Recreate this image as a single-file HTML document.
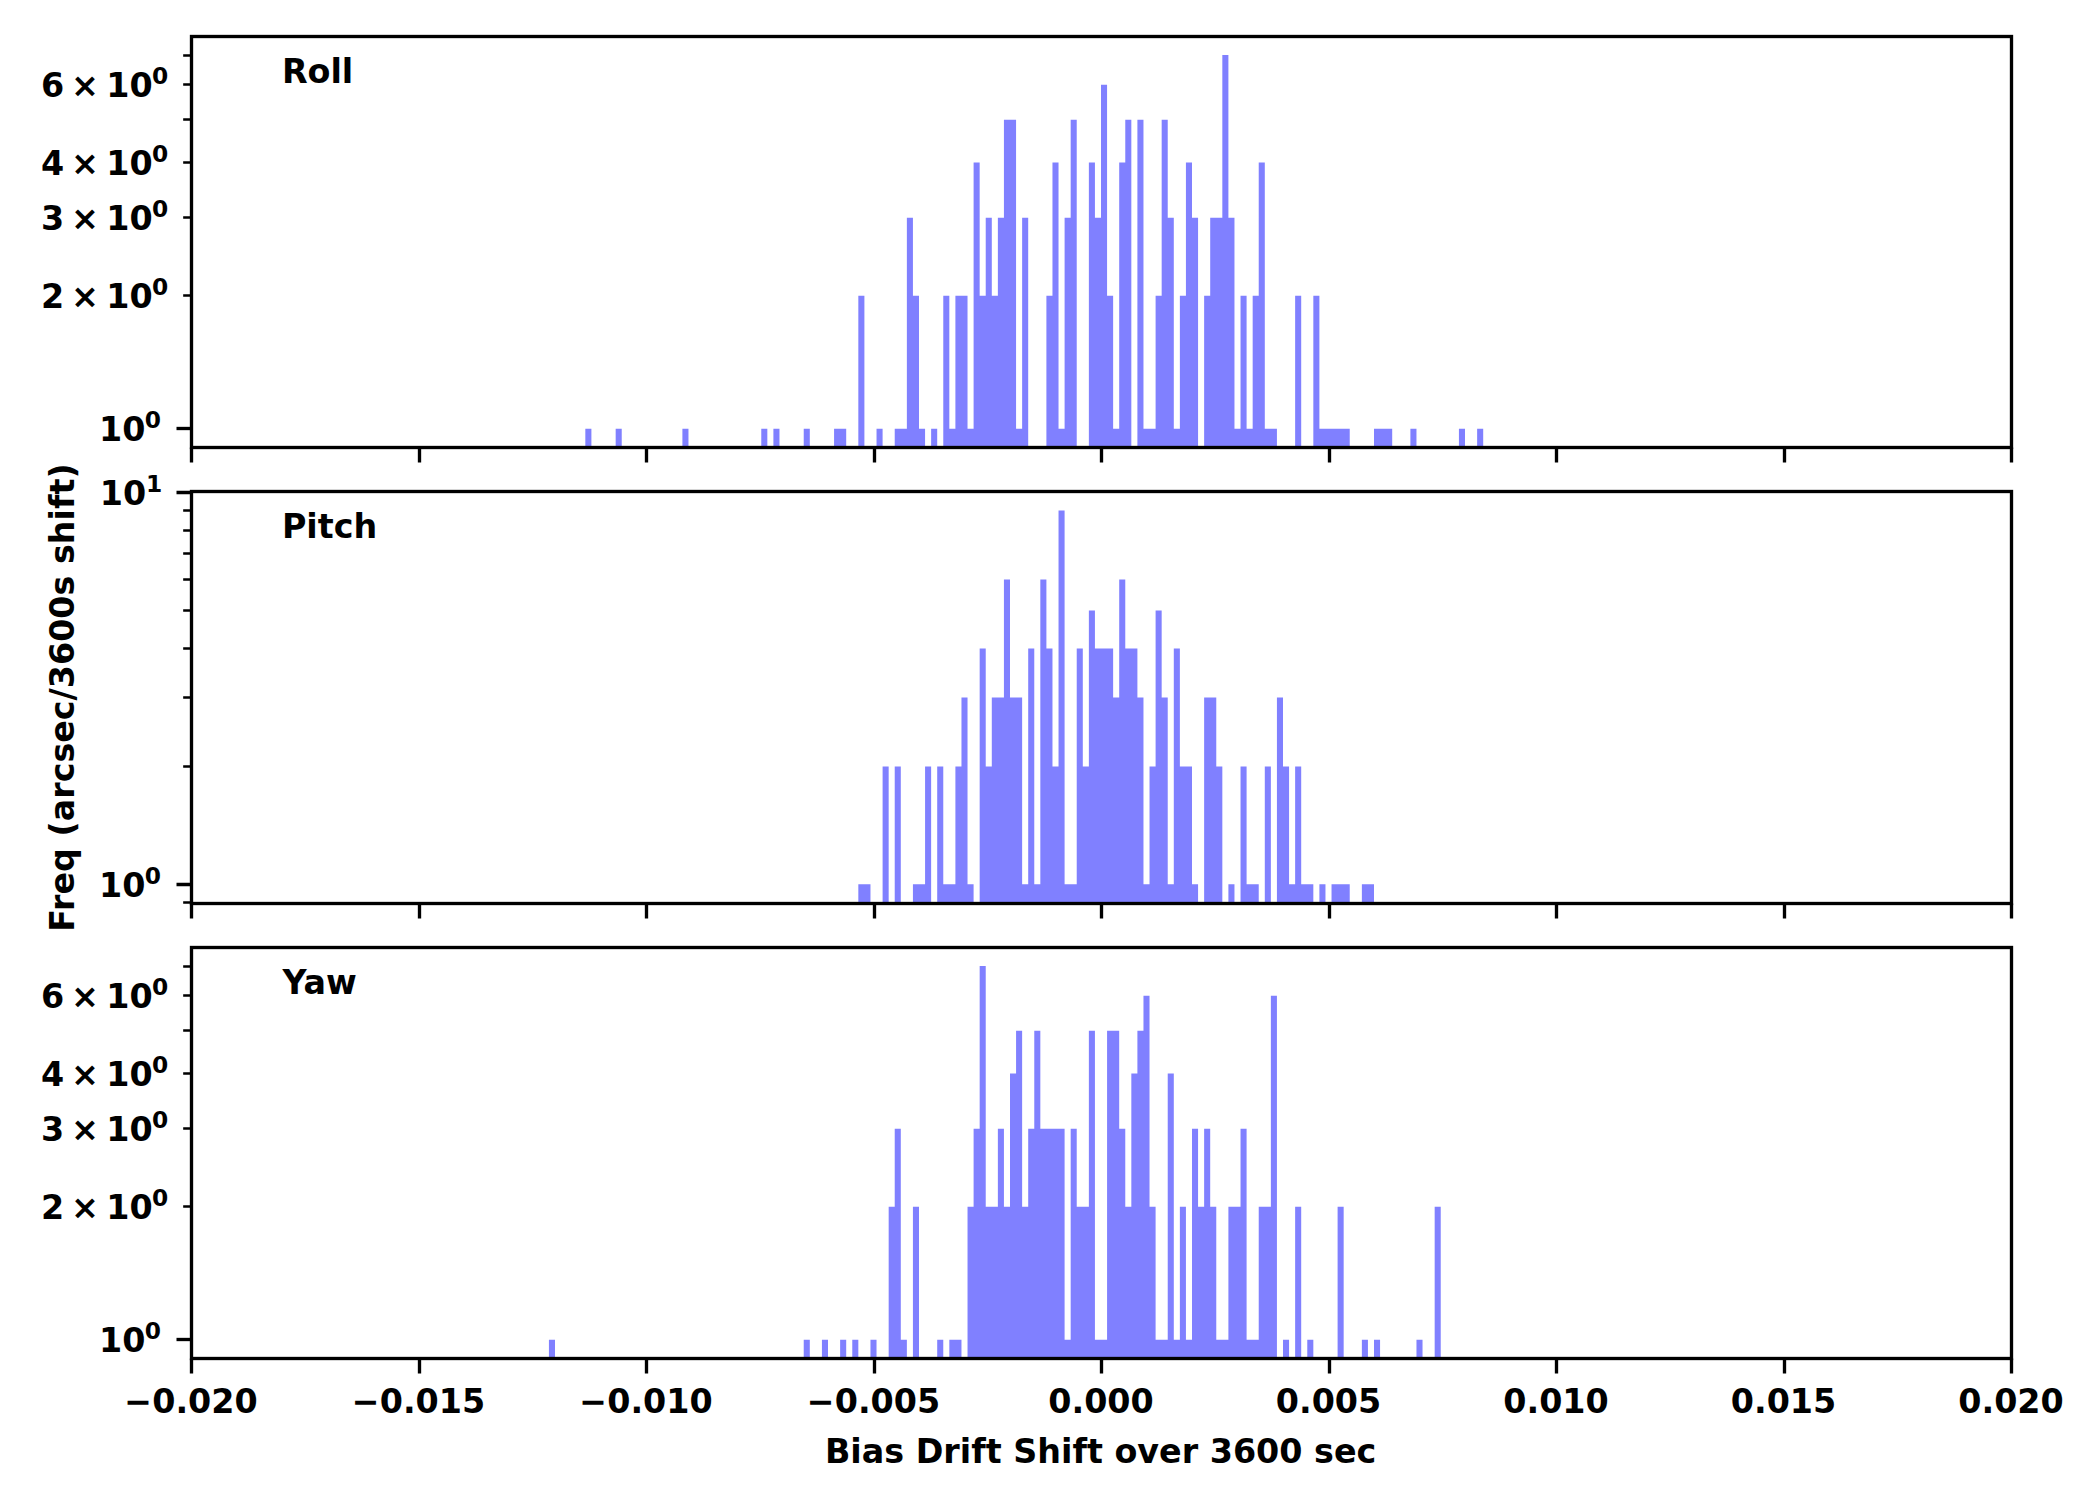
<!DOCTYPE html>
<html><head><meta charset="utf-8"><title>Bias Drift Shift</title>
<style>
html,body{margin:0;padding:0;background:#fff;}
svg{display:block;}
text{font-family:"DejaVu Sans","Liberation Sans",sans-serif;font-weight:bold;fill:#000;}
.t{font-size:33.333px;}
.s{font-size:23.333px;}
.x{font-weight:bold;}
</style></head><body>
<svg width="2100" height="1500" viewBox="0 0 2100 1500">
<rect width="2100" height="1500" fill="#fff"/>
<path d="M585.33 447.55V428.86H591.4V447.55ZM615.67 447.55V428.86H621.73V447.55ZM682.4 447.55V428.86H688.47V447.55ZM761.27 447.55V428.86H767.33V447.55ZM773.4 447.55V428.86H779.47V447.55ZM803.73 447.55V428.86H809.8V447.55ZM834.07 447.55V428.86H840.13V447.55ZM840.13 447.55V428.86H846.2V447.55ZM858.33 447.55V295.72H864.4V447.55ZM876.53 447.55V428.86H882.6V447.55ZM894.73 447.55V428.86H900.8V447.55ZM900.8 447.55V428.86H906.87V447.55ZM906.87 447.55V217.84H912.93V447.55ZM912.93 447.55V295.72H919.0V447.55ZM919.0 447.55V428.86H925.07V447.55ZM931.13 447.55V428.86H937.2V447.55ZM943.27 447.55V295.72H949.33V447.55ZM949.33 447.55V428.86H955.4V447.55ZM955.4 447.55V295.72H961.47V447.55ZM961.47 447.55V295.72H967.53V447.55ZM967.53 447.55V428.86H973.6V447.55ZM973.6 447.55V162.58H979.67V447.55ZM979.67 447.55V295.72H985.73V447.55ZM985.73 447.55V217.84H991.8V447.55ZM991.8 447.55V295.72H997.87V447.55ZM997.87 447.55V217.84H1003.93V447.55ZM1003.93 447.55V119.72H1010.0V447.55ZM1010.0 447.55V119.72H1016.07V447.55ZM1016.07 447.55V428.86H1022.13V447.55ZM1022.13 447.55V217.84H1028.2V447.55ZM1046.4 447.55V295.72H1052.47V447.55ZM1052.47 447.55V162.58H1058.53V447.55ZM1058.53 447.55V428.86H1064.6V447.55ZM1064.6 447.55V217.84H1070.67V447.55ZM1070.67 447.55V119.72H1076.73V447.55ZM1088.87 447.55V162.58H1094.93V447.55ZM1094.93 447.55V217.84H1101.0V447.55ZM1101.0 447.55V84.7H1107.07V447.55ZM1107.07 447.55V295.72H1113.13V447.55ZM1113.13 447.55V428.86H1119.2V447.55ZM1119.2 447.55V162.58H1125.27V447.55ZM1125.27 447.55V119.72H1131.33V447.55ZM1137.4 447.55V119.72H1143.47V447.55ZM1143.47 447.55V428.86H1149.53V447.55ZM1149.53 447.55V428.86H1155.6V447.55ZM1155.6 447.55V295.72H1161.67V447.55ZM1161.67 447.55V119.72H1167.73V447.55ZM1167.73 447.55V217.84H1173.8V447.55ZM1173.8 447.55V428.86H1179.87V447.55ZM1179.87 447.55V295.72H1185.93V447.55ZM1185.93 447.55V162.58H1192.0V447.55ZM1192.0 447.55V217.84H1198.07V447.55ZM1204.13 447.55V295.72H1210.2V447.55ZM1210.2 447.55V217.84H1216.27V447.55ZM1216.27 447.55V217.84H1222.33V447.55ZM1222.33 447.55V55.09H1228.4V447.55ZM1228.4 447.55V217.84H1234.47V447.55ZM1234.47 447.55V428.86H1240.53V447.55ZM1240.53 447.55V295.72H1246.6V447.55ZM1246.6 447.55V428.86H1252.67V447.55ZM1252.67 447.55V295.72H1258.73V447.55ZM1258.73 447.55V162.58H1264.8V447.55ZM1264.8 447.55V428.86H1270.87V447.55ZM1270.87 447.55V428.86H1276.93V447.55ZM1295.13 447.55V295.72H1301.2V447.55ZM1313.33 447.55V295.72H1319.4V447.55ZM1319.4 447.55V428.86H1325.47V447.55ZM1325.47 447.55V428.86H1331.53V447.55ZM1331.53 447.55V428.86H1337.6V447.55ZM1337.6 447.55V428.86H1343.67V447.55ZM1343.67 447.55V428.86H1349.73V447.55ZM1374.0 447.55V428.86H1380.07V447.55ZM1380.07 447.55V428.86H1386.13V447.55ZM1386.13 447.55V428.86H1392.2V447.55ZM1410.4 447.55V428.86H1416.47V447.55ZM1458.93 447.55V428.86H1465.0V447.55ZM1477.13 447.55V428.86H1483.2V447.55Z" fill="#8080ff"/>
<rect x="191.5" y="36.5" width="1820.0" height="411.0" fill="none" stroke="#000" stroke-width="3.333" stroke-linejoin="miter"/>
<path d="M191.5 447.5v15M419.5 447.5v15M646.5 447.5v15M874.5 447.5v15M1101.5 447.5v15M1329.5 447.5v15M1556.5 447.5v15M1784.5 447.5v15M2011.5 447.5v15" stroke="#000" stroke-width="3.333" fill="none"/>
<path d="M191.5 428.5h-15" stroke="#000" stroke-width="3.333" fill="none"/>
<path d="M191.5 295.5h-8.33M191.5 217.5h-8.33M191.5 162.5h-8.33M191.5 119.5h-8.33M191.5 84.5h-8.33M191.5 55.5h-8.33" stroke="#000" stroke-width="2.5" fill="none"/>
<text class="t" x="99.0" y="441.06">10</text><text class="s" x="144.7" y="428.46">0</text>
<text class="t" x="41.1" y="307.92">2</text><text class="t x" x="70.9" y="307.92">×</text><text class="t" x="106.2" y="307.92">10</text><text class="s" x="151.9" y="295.32">0</text>
<text class="t" x="41.1" y="230.04">3</text><text class="t x" x="70.9" y="230.04">×</text><text class="t" x="106.2" y="230.04">10</text><text class="s" x="151.9" y="217.44">0</text>
<text class="t" x="41.1" y="174.78">4</text><text class="t x" x="70.9" y="174.78">×</text><text class="t" x="106.2" y="174.78">10</text><text class="s" x="151.9" y="162.18">0</text>
<text class="t" x="41.1" y="96.90">6</text><text class="t x" x="70.9" y="96.90">×</text><text class="t" x="106.2" y="96.90">10</text><text class="s" x="151.9" y="84.30">0</text>
<text class="t" style="font-size:33.333px" x="281.9" y="82.9">Roll</text>
<path d="M858.33 903.05V884.36H864.4V903.05ZM864.4 903.05V884.36H870.47V903.05ZM882.6 903.05V766.45H888.67V903.05ZM894.73 903.05V766.45H900.8V903.05ZM912.93 903.05V884.36H919.0V903.05ZM919.0 903.05V884.36H925.07V903.05ZM925.07 903.05V766.45H931.13V903.05ZM937.2 903.05V766.45H943.27V903.05ZM943.27 903.05V884.36H949.33V903.05ZM949.33 903.05V884.36H955.4V903.05ZM955.4 903.05V766.45H961.47V903.05ZM961.47 903.05V697.47H967.53V903.05ZM967.53 903.05V884.36H973.6V903.05ZM979.67 903.05V648.54H985.73V903.05ZM985.73 903.05V766.45H991.8V903.05ZM991.8 903.05V697.47H997.87V903.05ZM997.87 903.05V697.47H1003.93V903.05ZM1003.93 903.05V579.56H1010.0V903.05ZM1010.0 903.05V697.47H1016.07V903.05ZM1016.07 903.05V697.47H1022.13V903.05ZM1022.13 903.05V884.36H1028.2V903.05ZM1028.2 903.05V648.54H1034.27V903.05ZM1034.27 903.05V884.36H1040.33V903.05ZM1040.33 903.05V579.56H1046.4V903.05ZM1046.4 903.05V648.54H1052.47V903.05ZM1052.47 903.05V766.45H1058.53V903.05ZM1058.53 903.05V510.59H1064.6V903.05ZM1064.6 903.05V884.36H1070.67V903.05ZM1070.67 903.05V884.36H1076.73V903.05ZM1076.73 903.05V648.54H1082.8V903.05ZM1082.8 903.05V766.45H1088.87V903.05ZM1088.87 903.05V610.58H1094.93V903.05ZM1094.93 903.05V648.54H1101.0V903.05ZM1101.0 903.05V648.54H1107.07V903.05ZM1107.07 903.05V648.54H1113.13V903.05ZM1113.13 903.05V697.47H1119.2V903.05ZM1119.2 903.05V579.56H1125.27V903.05ZM1125.27 903.05V648.54H1131.33V903.05ZM1131.33 903.05V648.54H1137.4V903.05ZM1137.4 903.05V697.47H1143.47V903.05ZM1143.47 903.05V884.36H1149.53V903.05ZM1149.53 903.05V766.45H1155.6V903.05ZM1155.6 903.05V610.58H1161.67V903.05ZM1161.67 903.05V697.47H1167.73V903.05ZM1167.73 903.05V884.36H1173.8V903.05ZM1173.8 903.05V648.54H1179.87V903.05ZM1179.87 903.05V766.45H1185.93V903.05ZM1185.93 903.05V766.45H1192.0V903.05ZM1192.0 903.05V884.36H1198.07V903.05ZM1204.13 903.05V697.47H1210.2V903.05ZM1210.2 903.05V697.47H1216.27V903.05ZM1216.27 903.05V766.45H1222.33V903.05ZM1228.4 903.05V884.36H1234.47V903.05ZM1240.53 903.05V766.45H1246.6V903.05ZM1246.6 903.05V884.36H1252.67V903.05ZM1252.67 903.05V884.36H1258.73V903.05ZM1264.8 903.05V766.45H1270.87V903.05ZM1276.93 903.05V697.47H1283.0V903.05ZM1283.0 903.05V766.45H1289.07V903.05ZM1289.07 903.05V884.36H1295.13V903.05ZM1295.13 903.05V766.45H1301.2V903.05ZM1301.2 903.05V884.36H1307.27V903.05ZM1307.27 903.05V884.36H1313.33V903.05ZM1319.4 903.05V884.36H1325.47V903.05ZM1331.53 903.05V884.36H1337.6V903.05ZM1337.6 903.05V884.36H1343.67V903.05ZM1343.67 903.05V884.36H1349.73V903.05ZM1361.87 903.05V884.36H1367.93V903.05ZM1367.93 903.05V884.36H1374.0V903.05Z" fill="#8080ff"/>
<rect x="191.5" y="491.5" width="1820.0" height="412.0" fill="none" stroke="#000" stroke-width="3.333" stroke-linejoin="miter"/>
<path d="M191.5 903.5v15M419.5 903.5v15M646.5 903.5v15M874.5 903.5v15M1101.5 903.5v15M1329.5 903.5v15M1556.5 903.5v15M1784.5 903.5v15M2011.5 903.5v15" stroke="#000" stroke-width="3.333" fill="none"/>
<path d="M191.5 884.5h-15M191.5 492.5h-15" stroke="#000" stroke-width="3.333" fill="none"/>
<path d="M191.5 902.5h-8.33M191.5 766.5h-8.33M191.5 697.5h-8.33M191.5 648.5h-8.33M191.5 610.5h-8.33M191.5 579.5h-8.33M191.5 553.5h-8.33M191.5 530.5h-8.33M191.5 510.5h-8.33" stroke="#000" stroke-width="2.5" fill="none"/>
<text class="t" x="99.0" y="896.56">10</text><text class="s" x="144.7" y="883.96">0</text>
<text class="t" x="99.8" y="504.87">10</text><text class="s" x="146.0" y="492.27">1</text>
<text class="t" style="font-size:33.333px" x="281.9" y="538.4">Pitch</text>
<path d="M548.93 1358.50V1339.81H555.0V1358.50ZM803.73 1358.50V1339.81H809.8V1358.50ZM821.93 1358.50V1339.81H828.0V1358.50ZM840.13 1358.50V1339.81H846.2V1358.50ZM852.27 1358.50V1339.81H858.33V1358.50ZM870.47 1358.50V1339.81H876.53V1358.50ZM888.67 1358.50V1206.67H894.73V1358.50ZM894.73 1358.50V1128.79H900.8V1358.50ZM900.8 1358.50V1339.81H906.87V1358.50ZM912.93 1358.50V1206.67H919.0V1358.50ZM937.2 1358.50V1339.81H943.27V1358.50ZM949.33 1358.50V1339.81H955.4V1358.50ZM955.4 1358.50V1339.81H961.47V1358.50ZM967.53 1358.50V1206.67H973.6V1358.50ZM973.6 1358.50V1128.79H979.67V1358.50ZM979.67 1358.50V966.04H985.73V1358.50ZM985.73 1358.50V1206.67H991.8V1358.50ZM991.8 1358.50V1206.67H997.87V1358.50ZM997.87 1358.50V1128.79H1003.93V1358.50ZM1003.93 1358.50V1206.67H1010.0V1358.50ZM1010.0 1358.50V1073.53H1016.07V1358.50ZM1016.07 1358.50V1030.67H1022.13V1358.50ZM1022.13 1358.50V1206.67H1028.2V1358.50ZM1028.2 1358.50V1128.79H1034.27V1358.50ZM1034.27 1358.50V1030.67H1040.33V1358.50ZM1040.33 1358.50V1128.79H1046.4V1358.50ZM1046.4 1358.50V1128.79H1052.47V1358.50ZM1052.47 1358.50V1128.79H1058.53V1358.50ZM1058.53 1358.50V1128.79H1064.6V1358.50ZM1064.6 1358.50V1339.81H1070.67V1358.50ZM1070.67 1358.50V1128.79H1076.73V1358.50ZM1076.73 1358.50V1206.67H1082.8V1358.50ZM1082.8 1358.50V1206.67H1088.87V1358.50ZM1088.87 1358.50V1030.67H1094.93V1358.50ZM1094.93 1358.50V1339.81H1101.0V1358.50ZM1101.0 1358.50V1339.81H1107.07V1358.50ZM1107.07 1358.50V1030.67H1113.13V1358.50ZM1113.13 1358.50V1030.67H1119.2V1358.50ZM1119.2 1358.50V1128.79H1125.27V1358.50ZM1125.27 1358.50V1206.67H1131.33V1358.50ZM1131.33 1358.50V1073.53H1137.4V1358.50ZM1137.4 1358.50V1030.67H1143.47V1358.50ZM1143.47 1358.50V995.65H1149.53V1358.50ZM1149.53 1358.50V1206.67H1155.6V1358.50ZM1155.6 1358.50V1339.81H1161.67V1358.50ZM1161.67 1358.50V1339.81H1167.73V1358.50ZM1167.73 1358.50V1073.53H1173.8V1358.50ZM1173.8 1358.50V1339.81H1179.87V1358.50ZM1179.87 1358.50V1206.67H1185.93V1358.50ZM1185.93 1358.50V1339.81H1192.0V1358.50ZM1192.0 1358.50V1128.79H1198.07V1358.50ZM1198.07 1358.50V1206.67H1204.13V1358.50ZM1204.13 1358.50V1128.79H1210.2V1358.50ZM1210.2 1358.50V1206.67H1216.27V1358.50ZM1216.27 1358.50V1339.81H1222.33V1358.50ZM1222.33 1358.50V1339.81H1228.4V1358.50ZM1228.4 1358.50V1206.67H1234.47V1358.50ZM1234.47 1358.50V1206.67H1240.53V1358.50ZM1240.53 1358.50V1128.79H1246.6V1358.50ZM1246.6 1358.50V1339.81H1252.67V1358.50ZM1252.67 1358.50V1339.81H1258.73V1358.50ZM1258.73 1358.50V1206.67H1264.8V1358.50ZM1264.8 1358.50V1206.67H1270.87V1358.50ZM1270.87 1358.50V995.65H1276.93V1358.50ZM1283.0 1358.50V1339.81H1289.07V1358.50ZM1295.13 1358.50V1206.67H1301.2V1358.50ZM1307.27 1358.50V1339.81H1313.33V1358.50ZM1337.6 1358.50V1206.67H1343.67V1358.50ZM1361.87 1358.50V1339.81H1367.93V1358.50ZM1374.0 1358.50V1339.81H1380.07V1358.50ZM1416.47 1358.50V1339.81H1422.53V1358.50ZM1434.67 1358.50V1206.67H1440.73V1358.50Z" fill="#8080ff"/>
<rect x="191.5" y="947.5" width="1820.0" height="411.0" fill="none" stroke="#000" stroke-width="3.333" stroke-linejoin="miter"/>
<path d="M191.5 1358.5v15M419.5 1358.5v15M646.5 1358.5v15M874.5 1358.5v15M1101.5 1358.5v15M1329.5 1358.5v15M1556.5 1358.5v15M1784.5 1358.5v15M2011.5 1358.5v15" stroke="#000" stroke-width="3.333" fill="none"/>
<path d="M191.5 1339.5h-15" stroke="#000" stroke-width="3.333" fill="none"/>
<path d="M191.5 1206.5h-8.33M191.5 1128.5h-8.33M191.5 1073.5h-8.33M191.5 1030.5h-8.33M191.5 995.5h-8.33M191.5 966.5h-8.33" stroke="#000" stroke-width="2.5" fill="none"/>
<text class="t" x="99.0" y="1352.01">10</text><text class="s" x="144.7" y="1339.41">0</text>
<text class="t" x="41.1" y="1218.87">2</text><text class="t x" x="70.9" y="1218.87">×</text><text class="t" x="106.2" y="1218.87">10</text><text class="s" x="151.9" y="1206.27">0</text>
<text class="t" x="41.1" y="1140.99">3</text><text class="t x" x="70.9" y="1140.99">×</text><text class="t" x="106.2" y="1140.99">10</text><text class="s" x="151.9" y="1128.39">0</text>
<text class="t" x="41.1" y="1085.73">4</text><text class="t x" x="70.9" y="1085.73">×</text><text class="t" x="106.2" y="1085.73">10</text><text class="s" x="151.9" y="1073.13">0</text>
<text class="t" x="41.1" y="1007.85">6</text><text class="t x" x="70.9" y="1007.85">×</text><text class="t" x="106.2" y="1007.85">10</text><text class="s" x="151.9" y="995.25">0</text>
<text class="t" style="font-size:33.333px" x="282.5" y="993.9">Yaw</text>
<text class="t" text-anchor="middle" x="191.00" y="1413">−0.020</text>
<text class="t" text-anchor="middle" x="418.50" y="1413">−0.015</text>
<text class="t" text-anchor="middle" x="646.00" y="1413">−0.010</text>
<text class="t" text-anchor="middle" x="873.50" y="1413">−0.005</text>
<text class="t" text-anchor="middle" x="1101.00" y="1413">0.000</text>
<text class="t" text-anchor="middle" x="1328.50" y="1413">0.005</text>
<text class="t" text-anchor="middle" x="1556.00" y="1413">0.010</text>
<text class="t" text-anchor="middle" x="1783.50" y="1413">0.015</text>
<text class="t" text-anchor="middle" x="2011.00" y="1413">0.020</text>
<text class="t" text-anchor="middle" x="1100.6" y="1463">Bias Drift Shift over 3600 sec</text>
<text class="t" text-anchor="middle" transform="translate(73.5 697.5) rotate(-90)">Freq (arcsec/3600s shift)</text>
</svg></body></html>
